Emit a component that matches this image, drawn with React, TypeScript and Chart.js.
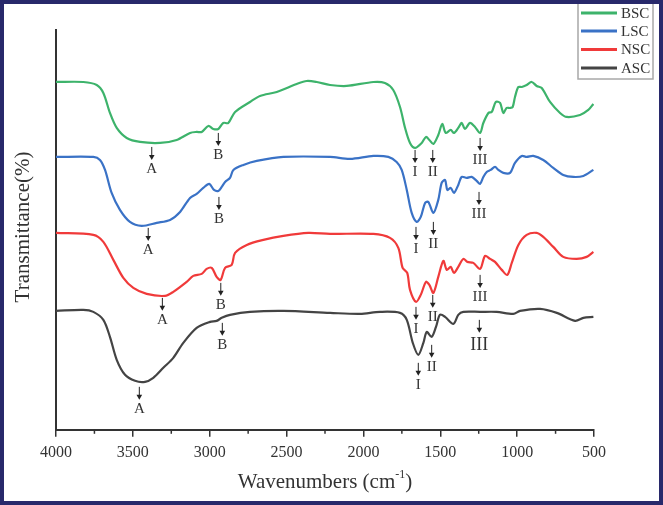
import React, { useEffect, useRef } from "react";
import { Chart, registerables } from "chart.js";

Chart.register(...registerables);

// ---------- data (wavenumber, relative transmittance) ----------
const bscX = [4000, 3822, 3735, 3692, 3649, 3605, 3540, 3453, 3323, 3215, 3128, 3085, 3052, 3009, 2977, 2944, 2912, 2879, 2835, 2738, 2673, 2564, 2434, 2369, 2304, 2217, 2109, 1935, 1860, 1806, 1762, 1729, 1697, 1664, 1621, 1593, 1571, 1545, 1513, 1487, 1465, 1432, 1411, 1383, 1361, 1339, 1307, 1274, 1241, 1220, 1187, 1165, 1139, 1111, 1090, 1068, 1046, 1029, 1014, 992, 970, 938, 905, 873, 840, 786, 721, 677, 591, 537, 504];
const bscY = [348, 348, 345, 337, 317, 302, 292, 288, 287, 290, 297, 298, 298, 304, 301, 301, 307, 307, 318, 328, 334, 338, 346, 349, 348, 345, 344, 348, 347, 340, 323, 302, 287, 282, 287, 293, 290, 286, 295, 306, 297, 300, 297, 302, 307, 301, 307, 303, 297, 307, 317, 318, 328, 327, 317, 322, 322, 323, 333, 343, 343, 345, 348, 344, 342, 328, 317, 313, 315, 320, 326];

const lscX = [4000, 3757, 3714, 3681, 3638, 3584, 3519, 3443, 3345, 3258, 3193, 3128, 3085, 3042, 3003, 2972, 2944, 2922, 2900, 2868, 2846, 2781, 2694, 2521, 2217, 2087, 1935, 1838, 1784, 1751, 1718, 1686, 1653, 1627, 1599, 1578, 1545, 1513, 1491, 1469, 1454, 1432, 1411, 1383, 1361, 1328, 1296, 1263, 1241, 1220, 1198, 1172, 1144, 1122, 1090, 1046, 1014, 970, 938, 895, 830, 765, 700, 634, 569, 504];
const lscY = [273, 273, 270, 260, 237, 220, 208, 204, 207, 210, 218, 232, 236, 242, 246, 240, 239, 243, 248, 252, 260, 265, 269, 273, 273, 271, 274, 273, 268, 260, 240, 217, 208, 213, 227, 228, 217, 230, 247, 250, 240, 242, 237, 245, 253, 252, 253, 249, 246, 253, 258, 260, 263, 260, 257, 257, 267, 274, 273, 274, 270, 262, 255, 253, 254, 260];

const nscX = [4000, 3757, 3692, 3627, 3562, 3497, 3410, 3291, 3237, 3150, 3107, 3052, 3020, 2987, 2955, 2929, 2900, 2857, 2835, 2759, 2651, 2521, 2359, 2217, 1935, 1827, 1773, 1745, 1715, 1697, 1658, 1627, 1593, 1571, 1545, 1513, 1480, 1458, 1432, 1411, 1383, 1350, 1324, 1285, 1241, 1209, 1176, 1144, 1100, 1064, 1035, 992, 938, 873, 830, 765, 700, 613, 548, 504];
const nscY = [197, 195, 188, 170, 152, 142, 136, 134, 138, 148, 154, 156, 161, 162, 153, 150, 162, 165, 177, 185, 190, 194, 197, 196, 196, 192, 182, 162, 157, 140, 128, 135, 148, 145, 137, 153, 169, 160, 163, 157, 163, 171, 168, 167, 161, 174, 171, 168, 160, 155, 167, 185, 195, 197, 193, 183, 173, 171, 173, 178];

const ascX = [4000, 3822, 3757, 3692, 3649, 3605, 3551, 3486, 3421, 3367, 3302, 3237, 3172, 3085, 2998, 2955, 2922, 2868, 2738, 2521, 2217, 2022, 1892, 1762, 1718, 1679, 1643, 1610, 1588, 1556, 1528, 1502, 1469, 1415, 1383, 1350, 1241, 1133, 1025, 981, 851, 742, 623, 569, 504];
const ascY = [119, 120, 118, 110, 93, 70, 55, 49, 48, 52, 62, 72, 87, 102, 108, 109, 112, 115, 118, 119, 117, 116, 118, 117, 110, 87, 75, 87, 98, 93, 103, 115, 113, 106, 115, 118, 118, 118, 116, 119, 121, 117, 109, 112, 113];

const seriesNames = ["BSC", "LSC", "NSC", "ASC"];
const seriesColors = ["#3db36b", "#3a72c6", "#f03a3a", "#444444"];

// peak markers: wavenumber and the value where the arrow starts
const markLabels = ["A", "B", "I", "II", "III"];
const bscMarkX = [3377, 2944, 1664, 1549, 1241];
const bscMarkY = [283, 297, 280, 280, 292];
const lscMarkX = [3400, 2940, 1658, 1545, 1248];
const lscMarkY = [202, 233, 203, 208, 238];
const nscMarkX = [3308, 2928, 1658, 1549, 1241];
const nscMarkY = [132, 147, 123, 135, 155];
const ascMarkX = [3458, 2918, 1643, 1556, 1246];
const ascMarkY = [43, 107, 67, 85, 110];

const FONT = "'Liberation Serif', 'DejaVu Serif', serif";
const TEXT = "#333333";

const pts = (xs: number[], ys: number[]) => xs.map((x, i) => ({ x, y: ys[i] }));

const decorPlugin = {
  id: "decor",
  afterDatasetsDraw(chart: any) {
    const { ctx } = chart;
    const xs = chart.scales.x;
    const ys = chart.scales.y;
    const bottom = chart.chartArea.bottom;

    // minor ticks
    ctx.save();
    ctx.strokeStyle = TEXT;
    ctx.lineWidth = 1.5;
    for (let v = 750; v < 4000; v += 500) {
      const px = xs.getPixelForValue(v);
      ctx.beginPath();
      ctx.moveTo(px, bottom);
      ctx.lineTo(px, bottom + 4);
      ctx.stroke();
    }
    ctx.restore();

    // arrows and labels
    const groups = [
      [bscMarkX, bscMarkY],
      [lscMarkX, lscMarkY],
      [nscMarkX, nscMarkY],
      [ascMarkX, ascMarkY],
    ];
    ctx.save();
    groups.forEach(([mx, my], g) => {
      mx.forEach((x: number, i: number) => {
        const px = xs.getPixelForValue(x);
        const py = ys.getPixelForValue(my[i]);
        const len = 13;
        ctx.strokeStyle = "#222";
        ctx.fillStyle = "#222";
        ctx.lineWidth = 1;
        ctx.beginPath();
        ctx.moveTo(px, py);
        ctx.lineTo(px, py + len - 4);
        ctx.stroke();
        ctx.beginPath();
        ctx.moveTo(px - 2.8, py + len - 5);
        ctx.lineTo(px + 2.8, py + len - 5);
        ctx.lineTo(px, py + len);
        ctx.closePath();
        ctx.fill();
        const big = g === 3 && i === 4;
        ctx.font = `${big ? 18 : 15}px ${FONT}`;
        ctx.textAlign = "center";
        ctx.textBaseline = "middle";
        ctx.fillStyle = TEXT;
        ctx.fillText(markLabels[i], px, py + len + (big ? 12 : 9));
      });
    });
    ctx.restore();
  },
  afterDraw(chart: any) {
    const { ctx, width, height } = chart;
    const xs = chart.scales.x;
    ctx.save();
    // y title
    ctx.fillStyle = TEXT;
    ctx.font = `21px ${FONT}`;
    ctx.textAlign = "center";
    ctx.textBaseline = "middle";
    ctx.translate(23, 227);
    ctx.rotate(-Math.PI / 2);
    ctx.fillText("Transmittance(%)", 0, 0);
    ctx.restore();

    // x title with superscript
    ctx.save();
    ctx.fillStyle = TEXT;
    ctx.textBaseline = "middle";
    const cx = (xs.left + xs.right) / 2;
    const main = "Wavenumbers (cm";
    ctx.font = `21px ${FONT}`;
    const w1 = ctx.measureText(main).width;
    ctx.font = `12px ${FONT}`;
    const w2 = ctx.measureText("-1").width;
    ctx.font = `21px ${FONT}`;
    const w3 = ctx.measureText(")").width;
    let x0 = cx - (w1 + w2 + w3) / 2;
    const ty = 482;
    ctx.textAlign = "left";
    ctx.fillText(main, x0, ty);
    x0 += w1;
    ctx.font = `12px ${FONT}`;
    ctx.fillText("-1", x0, ty - 7);
    x0 += w2;
    ctx.font = `21px ${FONT}`;
    ctx.fillText(")", x0, ty);
    ctx.restore();

    // legend
    ctx.save();
    ctx.fillStyle = "#ffffff";
    ctx.fillRect(578, -5, 75, 84);
    ctx.strokeStyle = "#a8a8a8";
    ctx.lineWidth = 1.5;
    ctx.strokeRect(578, -5, 75, 84);
    const ly = [13, 31, 49.5, 68];
    seriesNames.forEach((n, i) => {
      ctx.strokeStyle = seriesColors[i];
      ctx.lineWidth = 3;
      ctx.beginPath();
      ctx.moveTo(581, ly[i]);
      ctx.lineTo(617, ly[i]);
      ctx.stroke();
      ctx.fillStyle = TEXT;
      ctx.font = `15px ${FONT}`;
      ctx.textAlign = "left";
      ctx.textBaseline = "middle";
      ctx.fillText(n, 621, ly[i] + 1);
    });
    ctx.restore();

    // outer frame
    ctx.save();
    ctx.strokeStyle = "#28296b";
    ctx.lineWidth = 4;
    ctx.strokeRect(2, 2, width - 4, height - 4);
    ctx.restore();
  },
};

export default function App() {
  const ref = useRef<HTMLCanvasElement | null>(null);
  useEffect(() => {
    document.body.style.margin = "0";
    const canvas = ref.current!;
    const all = [
      pts(bscX, bscY),
      pts(lscX, lscY),
      pts(nscX, nscY),
      pts(ascX, ascY),
    ];
    const chart = new Chart(canvas, {
      type: "line",
      data: {
        datasets: all.map((d, i) => ({
          label: seriesNames[i],
          data: d,
          borderColor: seriesColors[i],
          backgroundColor: seriesColors[i],
          borderWidth: 2.2,
          pointRadius: 0,
          tension: 0.3,
          fill: false,
        })),
      },
      options: {
        animation: false,
        responsive: false,
        maintainAspectRatio: false,
        layout: { padding: { left: 48, right: 69, top: 30, bottom: 37 } },
        plugins: { legend: { display: false }, tooltip: { enabled: false } },
        scales: {
          x: {
            type: "linear",
            reverse: true,
            min: 500,
            max: 4000,
            ticks: {
              stepSize: 250,
              autoSkip: false,
              maxRotation: 0,
              padding: 6,
              color: TEXT,
              font: { family: FONT, size: 16 },
              callback: (v: any) => (Number(v) % 500 === 0 ? String(v) : ""),
            },
            grid: {
              drawOnChartArea: false,
              drawTicks: true,
              tickLength: 7,
              lineWidth: 1.5,
              color: (c: any) =>
                c.tick && c.tick.value % 500 === 0 ? TEXT : "rgba(0,0,0,0)",
            },
            border: { display: true, color: TEXT, width: 2 },
          },
          y: {
            type: "linear",
            min: 0,
            max: 400,
            ticks: { display: false },
            grid: { display: false },
            border: { display: true, color: TEXT, width: 2 },
          },
        },
      },
      plugins: [decorPlugin],
    } as any);
    return () => chart.destroy();
  }, []);
  return (
    <div style={{ position: "fixed", left: 0, top: 0, width: 663, height: 505, background: "#fff" }}>
      <canvas ref={ref} width={663} height={505} style={{ width: 663, height: 505 }} />
    </div>
  );
}
